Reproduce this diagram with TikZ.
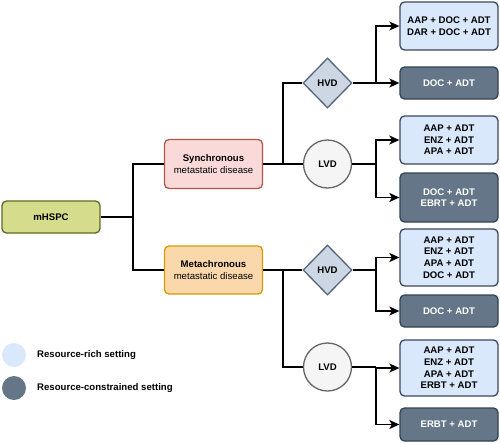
\documentclass[tikz,border=0pt]{standalone}
\usepackage{fontspec}
\setmainfont{Liberation Sans}
\usetikzlibrary{shapes.geometric,arrows.meta}
\definecolor{mhfill}{RGB}{213,221,140}
\definecolor{mhdraw}{RGB}{95,105,40}
\definecolor{syfill}{RGB}{249,218,216}
\definecolor{sydraw}{RGB}{184,84,80}
\definecolor{mefill}{RGB}{251,216,172}
\definecolor{medraw}{RGB}{215,155,0}
\definecolor{hvfill}{RGB}{205,214,227}
\definecolor{hvdraw}{RGB}{85,100,122}
\definecolor{lvfill}{RGB}{245,245,245}
\definecolor{lvdraw}{RGB}{102,102,102}
\definecolor{rrfill}{RGB}{218,232,252}
\definecolor{rrdraw}{RGB}{60,72,90}
\definecolor{rcfill}{RGB}{100,118,135}
\definecolor{rcdraw}{RGB}{49,67,84}
\begin{document}
\begin{tikzpicture}[x=1pt,y=-1pt,
  base/.style={font=\fontsize{9.6}{11.6}\selectfont, align=center, inner sep=0pt, line width=1.3pt},
  rbox/.style={base, rectangle, rounded corners=4.5pt, minimum width=98pt},
  mhbox/.style={rbox, fill=mhfill, draw=mhdraw},
  sybox/.style={rbox, fill=syfill, draw=sydraw},
  mebox/.style={rbox, fill=mefill, draw=medraw},
  rich/.style={rbox, fill=rrfill, draw=rrdraw, font=\fontsize{9.6}{11.6}\selectfont\bfseries},
  poor/.style={rbox, fill=rcfill, draw=rcdraw, text=white, font=\fontsize{9.6}{11.6}\selectfont\bfseries},
  hvdnode/.style={base, diamond, fill=hvfill, draw=hvdraw, minimum width=49pt, minimum height=50pt, font=\fontsize{9.6}{11.6}\selectfont\bfseries},
  lvdnode/.style={base, circle, fill=lvfill, draw=lvdraw, minimum size=48pt, font=\fontsize{9.6}{11.6}\selectfont\bfseries},
  conn/.style={line width=1.5pt, black},
  arr/.style={conn, -{Stealth[length=10pt,width=9pt,inset=2.5pt]}},
  legtext/.style={font=\fontsize{9.6}{11.6}\selectfont\bfseries, anchor=west, inner sep=0pt}
]
\useasboundingbox (0,0) rectangle (500,442);

% main nodes
\node[mhbox, minimum height=32pt, font=\fontsize{9.6}{11.6}\selectfont\bfseries] (mh) at (51,217) {mHSPC};
\node[sybox, minimum height=49pt] (sy) at (213.5,164) {\textbf{Synchronous}\\metastatic disease};
\node[mebox, minimum height=48pt] (me) at (213.5,270) {\textbf{Metachronous}\\metastatic disease};

\node[hvdnode] (h1) at (327.5,83) {HVD};
\node[lvdnode] (l1) at (327.5,164) {LVD};
\node[hvdnode] (h2) at (327.5,270) {HVD};
\node[lvdnode] (l2) at (327.5,367) {LVD};

\node[rich, minimum height=48pt] (b1) at (449,26) {AAP + DOC + ADT\\DAR + DOC + ADT};
\node[poor, minimum height=32pt] (b2) at (449,83) {DOC + ADT};
\node[rich, minimum height=48pt] (b3) at (449,140) {AAP + ADT\\ENZ + ADT\\APA + ADT};
\node[poor, minimum height=49pt] (b4) at (449,197.5) {DOC + ADT\\EBRT + ADT};
\node[rich, minimum height=57pt] (b5) at (449,257.5) {AAP + ADT\\ENZ + ADT\\APA + ADT\\DOC + ADT};
\node[poor, minimum height=32pt] (b6) at (449,311) {DOC + ADT};
\node[rich, minimum height=56pt] (b7) at (449,368) {AAP + ADT\\ENZ + ADT\\APA + ADT\\ERBT + ADT};
\node[poor, minimum height=33pt] (b8) at (449,424.5) {ERBT + ADT};

% junctions
\coordinate (j0) at (133,217);
\coordinate (j1) at (283,164);
\coordinate (j2) at (283,270);
\coordinate (j3) at (376,83);
\coordinate (j4) at (376,164);
\coordinate (j5) at (376,270);
\coordinate (j6) at (376,367);

% connectors
\draw[conn] (mh.east) -- (j0);
\draw[conn] (j0) |- (sy.west);
\draw[conn] (j0) |- (me.west);
\draw[conn] (sy.east) -- (j1);
\draw[conn] (j1) |- (h1.west);
\draw[conn] (j1) -- (l1.west);
\draw[conn] (me.east) -- (j2);
\draw[conn] (j2) -- (h2.west);
\draw[conn] (j2) |- (l2.west);

\draw[conn] (h1.east) -- (j3);
\draw[arr] (j3) |- (b1.west);
\draw[arr] (j3) -- (b2.west);
\draw[conn] (l1.east) -- (j4);
\draw[arr] (j4) |- (b3.west);
\draw[arr] (j4) |- (b4.west);
\draw[conn] (h2.east) -- (j5);
\draw[arr] (j5) |- (b5.west);
\draw[arr] (j5) |- (b6.west);
\draw[conn] (l2.east) -- (j6);
\draw[arr] (j6) |- (b7.west);
\draw[arr] (j6) |- (b8.west);

% legend
\node[circle, fill=rrfill, minimum size=24pt, inner sep=0pt] (lg1) at (14,355) {};
\node[circle, fill=rcfill, minimum size=24pt, inner sep=0pt] (lg2) at (14,388) {};
\node[legtext] (lt1) at (37,355) {Resource-rich setting};
\node[legtext] (lt2) at (37,388) {Resource-constrained setting};
\end{tikzpicture}
\end{document}
